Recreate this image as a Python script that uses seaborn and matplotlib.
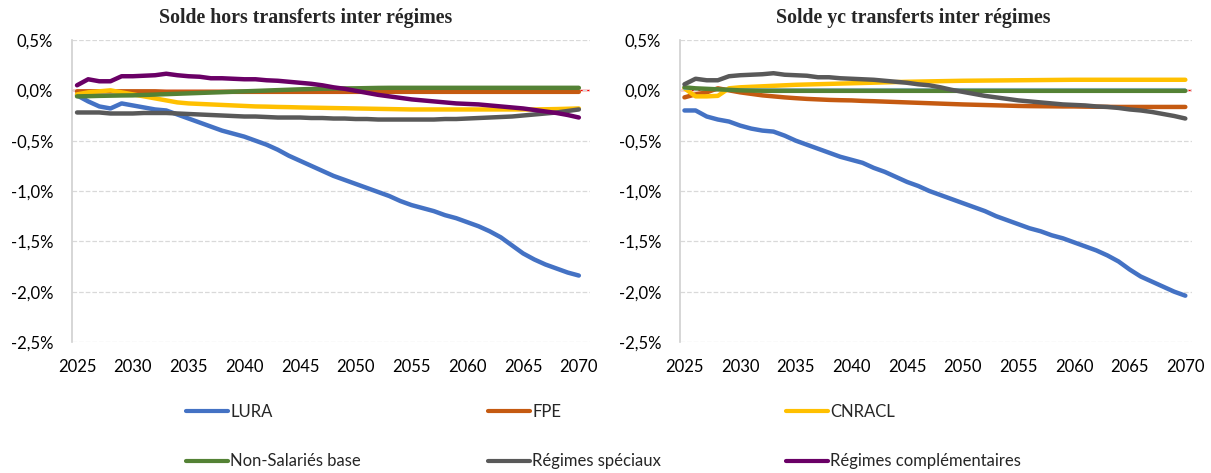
import matplotlib
matplotlib.use("Agg")
import matplotlib.pyplot as plt
from matplotlib.lines import Line2D
import numpy as np
import seaborn as sns

years = list(range(2025, 2071))

# --- Solde hors transferts inter régimes (en % du PIB)
hors_lura = [-0.05, -0.11, -0.16, -0.18, -0.13, -0.15, -0.17, -0.19, -0.20, -0.24,
             -0.28, -0.32, -0.36, -0.40, -0.43, -0.46, -0.50, -0.54, -0.59, -0.65,
             -0.70, -0.75, -0.80, -0.85, -0.89, -0.93, -0.97, -1.01, -1.05, -1.10,
             -1.14, -1.17, -1.20, -1.24, -1.27, -1.31, -1.35, -1.40, -1.46, -1.54,
             -1.62, -1.68, -1.73, -1.77, -1.81, -1.84]
hors_fpe = [-0.01, -0.01, -0.01, -0.01, -0.01, -0.01, -0.01, -0.01, -0.015, -0.015,
            -0.015, -0.015, -0.015, -0.015, -0.015, -0.015, -0.015, -0.015, -0.015, -0.015,
            -0.015, -0.015, -0.015, -0.015, -0.015, -0.015, -0.015, -0.015, -0.015, -0.015,
            -0.015, -0.015, -0.015, -0.015, -0.015, -0.015, -0.015, -0.015, -0.015, -0.015,
            -0.015, -0.015, -0.015, -0.015, -0.015, -0.015]
hors_cnracl = [-0.04, -0.02, -0.01, 0.00, -0.02, -0.04, -0.06, -0.08, -0.10, -0.12,
               -0.13, -0.135, -0.14, -0.145, -0.15, -0.155, -0.16, -0.162, -0.165, -0.167,
               -0.17, -0.172, -0.174, -0.176, -0.178, -0.18, -0.182, -0.184, -0.186, -0.188,
               -0.19, -0.19, -0.19, -0.19, -0.19, -0.19, -0.19, -0.19, -0.19, -0.19,
               -0.19, -0.19, -0.188, -0.186, -0.183, -0.18]
hors_ns = [-0.06, -0.058, -0.055, -0.053, -0.051, -0.05, -0.046, -0.042, -0.038, -0.034,
           -0.03, -0.026, -0.022, -0.018, -0.014, -0.01, -0.006, -0.002, 0.002, 0.006,
           0.01, 0.013, 0.016, 0.018, 0.019, 0.02, 0.022, 0.024, 0.025, 0.025,
           0.025, 0.025, 0.025, 0.025, 0.025, 0.025, 0.025, 0.025, 0.025, 0.025,
           0.025, 0.025, 0.025, 0.025, 0.025, 0.025]
hors_speciaux = [-0.22, -0.22, -0.22, -0.23, -0.23, -0.23, -0.225, -0.225, -0.225, -0.23,
                 -0.235, -0.24, -0.245, -0.25, -0.255, -0.26, -0.26, -0.265, -0.27, -0.27,
                 -0.27, -0.275, -0.275, -0.28, -0.28, -0.285, -0.285, -0.29, -0.29, -0.29,
                 -0.29, -0.29, -0.29, -0.285, -0.285, -0.28, -0.275, -0.27, -0.265, -0.26,
                 -0.25, -0.24, -0.23, -0.22, -0.205, -0.19]
hors_compl = [0.05, 0.11, 0.09, 0.09, 0.14, 0.14, 0.145, 0.15, 0.165, 0.15,
              0.14, 0.135, 0.12, 0.12, 0.115, 0.11, 0.11, 0.10, 0.095, 0.085,
              0.075, 0.065, 0.05, 0.03, 0.015, -0.005, -0.025, -0.045, -0.06, -0.075,
              -0.09, -0.10, -0.11, -0.12, -0.13, -0.135, -0.14, -0.15, -0.16, -0.17,
              -0.18, -0.195, -0.21, -0.225, -0.245, -0.27]

# --- Solde yc transferts inter régimes
yc_lura = [-0.20, -0.20, -0.26, -0.29, -0.31, -0.35, -0.38, -0.40, -0.41, -0.45,
           -0.50, -0.54, -0.58, -0.62, -0.66, -0.69, -0.72, -0.77, -0.81, -0.86,
           -0.91, -0.95, -1.00, -1.04, -1.08, -1.12, -1.16, -1.20, -1.25, -1.29,
           -1.33, -1.37, -1.40, -1.44, -1.47, -1.51, -1.55, -1.59, -1.64, -1.70,
           -1.78, -1.85, -1.90, -1.95, -2.00, -2.04]
yc_fpe = [-0.07, -0.04, -0.02, 0.02, 0.00, -0.02, -0.035, -0.05, -0.06, -0.07,
          -0.078, -0.085, -0.09, -0.095, -0.098, -0.10, -0.105, -0.108, -0.112, -0.116,
          -0.12, -0.124, -0.128, -0.132, -0.136, -0.14, -0.143, -0.146, -0.149, -0.152,
          -0.155, -0.157, -0.158, -0.159, -0.16, -0.16, -0.162, -0.163, -0.164, -0.165,
          -0.165, -0.165, -0.165, -0.165, -0.165, -0.165]
yc_cnracl = [0.02, -0.06, -0.06, -0.055, 0.02, 0.03, 0.035, 0.04, 0.045, 0.05,
             0.055, 0.058, 0.061, 0.064, 0.067, 0.07, 0.073, 0.076, 0.079, 0.082,
             0.085, 0.087, 0.089, 0.091, 0.093, 0.095, 0.096, 0.097, 0.098, 0.099,
             0.10, 0.101, 0.102, 0.103, 0.104, 0.105, 0.105, 0.105, 0.105, 0.105,
             0.105, 0.105, 0.105, 0.105, 0.105, 0.105]
yc_ns = [0.03, 0.02, 0.015, 0.01, 0.005, 0.0, -0.002, -0.004, -0.005, -0.005,
         -0.005, -0.005, -0.005, -0.005, -0.005, -0.005, -0.005, -0.005, -0.005, -0.005,
         -0.005, -0.005, -0.005, -0.005, -0.005, -0.005, -0.005, -0.005, -0.005, -0.005,
         -0.005, -0.005, -0.005, -0.005, -0.005, -0.005, -0.005, -0.005, -0.005, -0.005,
         -0.005, -0.005, -0.005, -0.005, -0.005, -0.005]
yc_speciaux = [0.01] * 46
yc_compl = [0.06, 0.115, 0.10, 0.10, 0.14, 0.15, 0.155, 0.16, 0.17, 0.155,
            0.15, 0.145, 0.13, 0.13, 0.12, 0.115, 0.11, 0.105, 0.095, 0.085,
            0.075, 0.06, 0.05, 0.03, 0.005, -0.015, -0.035, -0.055, -0.07, -0.085,
            -0.10, -0.11, -0.12, -0.13, -0.14, -0.145, -0.15, -0.16, -0.165, -0.175,
            -0.19, -0.20, -0.215, -0.235, -0.255, -0.28]

labels = ["LURA", "FPE", "CNRACL", "Non-Salariés base", "Régimes spéciaux",
          "Régimes complémentaires"]
colors = ["#4472C4", "#C55A11", "#FFC000", "#548235", "#595959", "#6A0066"]

sns.set_theme(style="white")
plt.rcParams["font.family"] = ["Lato", "DejaVu Sans"]

fig = plt.figure(figsize=(12.11, 4.73), dpi=100)
W, H = 1211, 473
ax1 = fig.add_axes([72 / W, 1 - 342 / H, (590 - 72) / W, (342 - 40) / H])
ax2 = fig.add_axes([680 / W, 1 - 342 / H, (1192 - 680) / W, (342 - 40) / H])

left_series = [hors_lura, hors_fpe, hors_cnracl, hors_ns, hors_speciaux, hors_compl]
for vals, col in zip(left_series, colors):
    sns.lineplot(x=years, y=vals, color=col, lw=3.2, ax=ax1)

# à droite les couleurs du fichier d'origine ne suivent pas la légende
right_series = [(yc_lura, "#4472C4", 3.2), (yc_fpe, "#C55A11", 3.2), (yc_cnracl, "#FFC000", 3.2),
                (yc_speciaux, "#9DC3E6", 1.5), (yc_ns, "#548235", 3.2), (yc_compl, "#595959", 3.2)]
for vals, col, lw in right_series:
    sns.lineplot(x=years, y=vals, color=col, lw=lw, ax=ax2)

yt = np.arange(-2.5, 0.51, 0.5)
for ax, xlim in [(ax1, (2024.55, 2071.0)), (ax2, (2024.6, 2070.6))]:
    ax.axhline(0, color="red", lw=1, zorder=0.5)
    ax.set_xlim(*xlim)
    ax.set_ylim(-2.5, 0.5)
    ax.set_yticks(yt)
    ax.set_yticklabels([f"{v:.1f}%".replace(".", ",") for v in yt])
    ax.set_xticks(range(2025, 2071, 5))
    ax.grid(axis="y", color="#D9D9D9", ls="--", lw=0.9)
    ax.set_axisbelow(True)
    for s in ["top", "right", "bottom"]:
        ax.spines[s].set_visible(False)
    ax.spines["left"].set_color("#D0D0D0")
    ax.spines["left"].set_linewidth(1.2)
    ax.tick_params(axis="y", length=0, pad=13.5, labelsize=12, labelcolor="black")
    ax.tick_params(axis="x", length=0, pad=12, labelsize=12, labelcolor="black")
    ax.set_xlabel("")
    ax.set_ylabel("")

fig.text(306 / W, 1 - 18 / H, "Solde hors transferts inter régimes", ha="center",
         va="center", family="Liberation Serif", weight="bold", fontsize=14.3)
fig.text(913 / W, 1 - 18 / H, "Solde yc transferts inter régimes", ha="center",
         va="center", family="Liberation Serif", weight="bold", fontsize=14.3)

handles = [Line2D([0], [0], color=c, lw=3) for c in colors]
col_x = [186, 488, 786]
for i, x in enumerate(col_x):
    fig.legend([handles[i], handles[i + 3]], [labels[i], labels[i + 3]],
               loc="upper left", bbox_to_anchor=(x / W, 1 - 404 / H),
               frameon=False, fontsize=12, handlelength=2.5, handletextpad=0.15,
               labelspacing=2.0, borderpad=0, borderaxespad=0)

fig.savefig("out.png", dpi=100)
